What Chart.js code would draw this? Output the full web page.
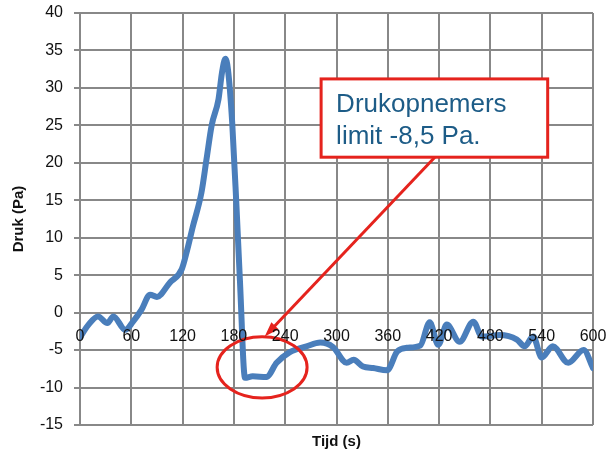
<!DOCTYPE html>
<html>
<head>
<meta charset="utf-8">
<script src="https://cdn.jsdelivr.net/npm/chart.js@4"></script>
<style>
  html, body { margin: 0; padding: 0; background: #fff; }
  #wrap { width: 614px; height: 455px; }
</style>
</head>
<body>
<div id="wrap"><canvas id="druk-chart"></canvas></div>
<script>
// tijd (s) en druk (Pa)
let tijd = [0, 10, 21, 32, 39, 53, 62, 72, 82, 90, 105, 119, 125, 132, 142, 148, 154, 162, 166, 170,
            173, 178, 183, 187, 193, 202, 218, 230, 245, 265, 281, 296, 312, 320, 331, 343, 359, 371,
            382, 398, 409, 419, 429, 444, 460, 470, 491, 511, 520, 530, 540, 553, 571, 589, 600];
let druk = [-3.3, -1.6, -0.5, -1.4, -0.5, -2.3, -1.2, 0.4, 2.4, 2.1, 4.0, 5.8, 8.2, 11.5, 16, 20.5, 25, 28.5, 32, 33.9,
            32.5, 25.4, 14.2, 4.4, -8.7, -8.5, -8.6, -6.7, -5.3, -4.5, -4.0, -4.6, -6.7, -6.3, -7.2, -7.4, -7.7, -5.2,
            -4.7, -4.4, -1.3, -4.3, -1.6, -3.9, -1.2, -3.2, -3.0, -3.6, -4.5, -3.2, -6.0, -4.5, -6.7, -5.0, -7.4];
let xTicks = [0, 60, 120, 180, 240, 300, 360, 420, 480, 540, 600];
let yTicks = [-15, -10, -5, 0, 5, 10, 15, 20, 25, 30, 35, 40];
let calloutText = ["Drukopnemers", "limit -8,5 Pa."];

const punten = tijd.map((t, i) => ({ x: t, y: druk[i] }));

const RED = "#e5231d";
const FONT = "'Liberation Sans', Arial, sans-serif";

// tekstballon, pijl en ellips
const callout = {
  id: 'callout',
  afterDatasetsDraw(chart) {
    const ctx = chart.ctx;
    const x = chart.scales.x, y = chart.scales.y;
    ctx.save();

    // ellips
    const ex = x.getPixelForValue(213), ey = y.getPixelForValue(-7.3);
    const rx = x.getPixelForValue(213 + 52.6) - ex;
    const ry = y.getPixelForValue(-7.3) - y.getPixelForValue(-7.3 + 4.08);
    ctx.strokeStyle = RED;
    ctx.lineWidth = 3;
    ctx.beginPath();
    ctx.ellipse(ex, ey, rx, ry, 0, 0, Math.PI * 2);
    ctx.stroke();

    // pijl
    const x0 = x.getPixelForValue(415), y0 = y.getPixelForValue(20.75);
    const x1 = x.getPixelForValue(216), y1 = y.getPixelForValue(-3.2);
    const ang = Math.atan2(y1 - y0, x1 - x0);
    ctx.beginPath();
    ctx.moveTo(x0, y0);
    ctx.lineTo(x1 - 8 * Math.cos(ang), y1 - 8 * Math.sin(ang));
    ctx.stroke();
    ctx.fillStyle = RED;
    ctx.beginPath();
    ctx.moveTo(x1, y1);
    ctx.lineTo(x1 - 15 * Math.cos(ang) + 5 * Math.sin(ang), y1 - 15 * Math.sin(ang) - 5 * Math.cos(ang));
    ctx.lineTo(x1 - 15 * Math.cos(ang) - 5 * Math.sin(ang), y1 - 15 * Math.sin(ang) + 5 * Math.cos(ang));
    ctx.closePath();
    ctx.fill();

    // kader
    const bl = x.getPixelForValue(282), br = x.getPixelForValue(547);
    const bt = y.getPixelForValue(31.2), bb = y.getPixelForValue(20.75);
    ctx.fillStyle = "#fff";
    ctx.fillRect(bl, bt, br - bl, bb - bt);
    ctx.lineWidth = 3;
    ctx.strokeRect(bl, bt, br - bl, bb - bt);

    ctx.fillStyle = "#1d5c87";
    ctx.font = "26px " + FONT;
    ctx.textBaseline = "alphabetic";
    ctx.fillText(calloutText[0], bl + 15, bt + 33);
    ctx.fillText(calloutText[1], bl + 15, bt + 65);
    ctx.restore();
  }
};

const ctx = document.getElementById('druk-chart');
new Chart(ctx, {
  type: 'line',
  data: {
    datasets: [{
      data: punten,
      borderColor: "#4a7ebb",
      borderWidth: 6,
      pointRadius: 0,
      cubicInterpolationMode: 'monotone',
      borderCapStyle: 'round',
      borderJoinStyle: 'round',
      fill: false
    }]
  },
  options: {
    responsive: true,
    maintainAspectRatio: false,
    animation: false,
    layout: { padding: { top: 13, right: 21, left: 0, bottom: 0 } },
    plugins: {
      legend: { display: false },
      tooltip: { enabled: false },
      title: {
        display: true,
        position: 'bottom',
        fullSize: false,
        text: "Tijd (s)",
        color: "#111",
        font: { family: FONT, size: 15, weight: 'bold', lineHeight: 1.2 },
        padding: { top: 8, bottom: 4 }
      }
    },
    scales: {
      x: {
        type: 'linear',
        position: { y: 0 },
        min: 0,
        max: 600,
        afterBuildTicks: s => { s.ticks = xTicks.map(v => ({ value: v })); },
        afterFit: s => { s.paddingLeft = 0; s.paddingRight = 0; },
        ticks: {
          color: "#111",
          padding: 14,
          maxRotation: 0,
          z: 1,
          font: { family: FONT, size: 16 }
        },
        grid: { color: "#888", lineWidth: 2, drawTicks: false },
        border: { color: "#888", width: 2 }
      },
      y: {
        min: -15,
        max: 40,
        afterBuildTicks: s => { s.ticks = yTicks.map(v => ({ value: v })); },
        afterFit: s => { s.width = 80; s.paddingTop = 0; s.paddingBottom = 0; },
        ticks: {
          color: "#111",
          padding: 11,
          font: { family: FONT, size: 16 }
        },
        grid: { color: "#888", lineWidth: 2, tickLength: 6 },
        border: { color: "#888", width: 2 },
        title: {
          display: true,
          text: "Druk (Pa)",
          color: "#111",
          font: { family: FONT, size: 15, weight: 'bold' },
          padding: { top: 10, bottom: 0 }
        }
      }
    }
  },
  plugins: [callout]
});
</script>
</body>
</html>
